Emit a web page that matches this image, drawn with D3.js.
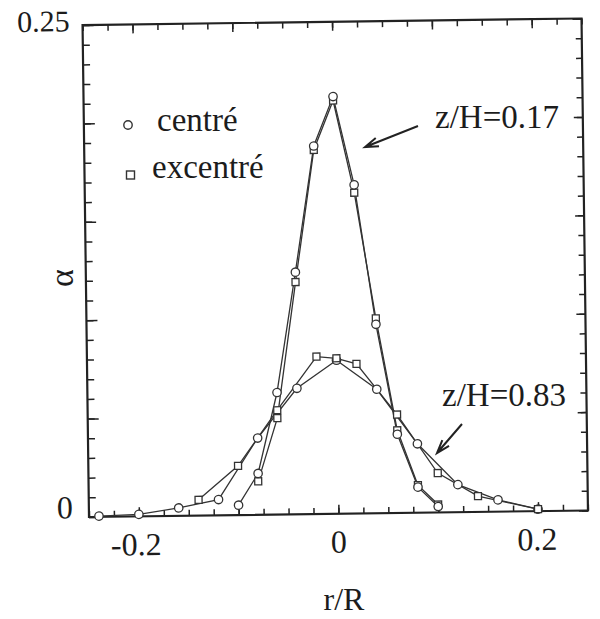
<!DOCTYPE html>
<html>
<head>
<meta charset="utf-8">
<script src="https://cdn.jsdelivr.net/npm/d3@7"></script>
<style>
  html, body { margin: 0; padding: 0; background: #fff; }
  svg { display: block; }
  text { font-family: "Liberation Serif", "DejaVu Serif", serif; fill: #1c1c1c; }
</style>
</head>
<body>
<svg id="chart" width="600" height="619"></svg>
<script>
// ---- data ----
const xDomain = [-0.25, 0.25];
const yDomain = [0, 0.25];

// z/H = 0.17
const rNarrowCentre = [-0.1, -0.08, -0.06, -0.04, -0.02, 0, 0.02, 0.04, 0.06, 0.08, 0.1];
const aNarrowCentre = [0.005, 0.021, 0.062, 0.123, 0.187, 0.212, 0.167, 0.096, 0.040, 0.013, 0.003];
const rNarrowExc = [-0.08, -0.06, -0.04, -0.02, 0, 0.02, 0.04, 0.06, 0.08, 0.1];
const aNarrowExc = [0.017, 0.049, 0.118, 0.185, 0.210, 0.163, 0.099, 0.042, 0.014, 0.004];

// z/H = 0.83
const rWideCentre = [-0.24, -0.2, -0.16, -0.12, -0.08, -0.04, 0, 0.04, 0.08, 0.12, 0.16, 0.2];
const aWideCentre = [0.0004, 0.001, 0.004, 0.008, 0.039, 0.064, 0.078, 0.063, 0.035, 0.014, 0.006, 0.001];
const rWideExc = [-0.14, -0.1, -0.06, -0.02, 0, 0.02, 0.06, 0.1, 0.14, 0.2];
const aWideExc = [0.008, 0.025, 0.053, 0.080, 0.079, 0.076, 0.050, 0.020, 0.008, 0.001];

const xTickLabels = [-0.2, 0, 0.2];
const yTickLabels = [0, 0.25];
const legendLabels = ["centré", "excentré"];
const annotLabels = ["z/H=0.17", "z/H=0.83"];
const xTitle = "r/R";
const yTitle = "α";

// ---- layout ----
const W = 499, H = 492;
const ink = "#222";
const svg = d3.select("#chart");

// the scanned figure is very slightly rotated
const g = svg.append("g")
  .attr("transform", "translate(89,517) rotate(-0.75) translate(0,-492)");

const x = d3.scaleLinear().domain(xDomain).range([0, W]);
const y = d3.scaleLinear().domain(yDomain).range([H, 0]);

const xMinor = d3.range(-0.25, 0.2501, 0.025).map(v => +v.toFixed(3));
const xMajor = d3.range(-0.2, 0.2001, 0.1).map(v => +v.toFixed(3));
const yMinor = d3.range(0, 0.2501, 0.01).map(v => +v.toFixed(3));
const yMajor = d3.range(0, 0.2501, 0.05).map(v => +v.toFixed(3));

function addAxis(gen, values, size, transform) {
  const a = g.append("g").attr("transform", transform)
    .call(gen.tickValues(values).tickSize(size).tickSizeOuter(0).tickFormat(""));
  a.select(".domain").remove();
  a.selectAll(".tick line").attr("stroke", ink).attr("stroke-width", 1.5);
}
addAxis(d3.axisBottom(x), xMinor, -6, `translate(0,${H})`);
addAxis(d3.axisBottom(x), xMajor, -9, `translate(0,${H})`);
addAxis(d3.axisTop(x), xMinor, -6, "translate(0,0)");
addAxis(d3.axisTop(x), xMajor, -9, "translate(0,0)");
addAxis(d3.axisLeft(y), yMinor, -7, "translate(0,0)");
addAxis(d3.axisLeft(y), yMajor, -11, "translate(0,0)");
addAxis(d3.axisRight(y), yMinor, -6, `translate(${W},0)`);
addAxis(d3.axisRight(y), yMajor, -9, `translate(${W},0)`);

g.append("rect").attr("x", 0).attr("y", 0).attr("width", W).attr("height", H)
  .attr("fill", "none").attr("stroke", ink).attr("stroke-width", 2.2);

// tick labels
g.selectAll(".xlab").data(xTickLabels).enter().append("text")
  .attr("class", "xlab")
  .attr("x", d => x(d) + (d < 0 ? -3 : (d > 0 ? -1 : 0)))
  .attr("y", H + 39)
  .attr("text-anchor", "middle")
  .attr("font-size", 32)
  .text(d => d === 0 ? "0" : String(d));

g.selectAll(".ylab").data(yTickLabels).enter().append("text")
  .attr("class", "ylab")
  .attr("x", d => d === 0 ? -16 : -13)
  .attr("y", d => y(d) + (d === 0 ? 1 : 6))
  .attr("text-anchor", "end")
  .attr("font-size", d => d === 0 ? 32 : 30)
  .text(d => d === 0 ? "0" : String(d));

// series
const series = [
  { r: rWideCentre, a: aWideCentre, m: "circle" },
  { r: rWideExc, a: aWideExc, m: "square" },
  { r: rNarrowExc, a: aNarrowExc, m: "square" },
  { r: rNarrowCentre, a: aNarrowCentre, m: "circle" }
];
const line = d3.line().x(d => x(d[0])).y(d => y(d[1]));

series.forEach(s => {
  const pts = s.r.map((v, i) => [v, s.a[i]]);
  g.append("path").datum(pts).attr("d", line)
    .attr("fill", "none").attr("stroke", "#333").attr("stroke-width", 1.3);
});
series.forEach(s => {
  const pts = s.r.map((v, i) => [v, s.a[i]]);
  if (s.m === "circle") {
    g.selectAll(null).data(pts).enter().append("circle")
      .attr("cx", d => x(d[0])).attr("cy", d => y(d[1])).attr("r", 4.2)
      .attr("fill", "#fff").attr("stroke", "#333").attr("stroke-width", 1.3);
  } else {
    g.selectAll(null).data(pts).enter().append("rect")
      .attr("x", d => x(d[0]) - 3.5).attr("y", d => y(d[1]) - 3.5)
      .attr("width", 7).attr("height", 7)
      .attr("fill", "#fff").attr("stroke", "#333").attr("stroke-width", 1.3);
  }
});

// legend
svg.append("circle").attr("cx", 128).attr("cy", 125).attr("r", 4.2)
  .attr("fill", "#fff").attr("stroke", "#333").attr("stroke-width", 1.4);
svg.append("text").attr("x", 157).attr("y", 131).attr("font-size", 33).text(legendLabels[0]);
svg.append("rect").attr("x", 126.5).attr("y", 171).attr("width", 8).attr("height", 8)
  .attr("fill", "#fff").attr("stroke", "#333").attr("stroke-width", 1.4);
svg.append("text").attr("x", 152).attr("y", 178).attr("font-size", 33).text(legendLabels[1]);

// annotations
svg.append("text").attr("x", 435).attr("y", 128).attr("font-size", 33).text(annotLabels[0]);
svg.append("text").attr("x", 442).attr("y", 406).attr("font-size", 33).text(annotLabels[1]);

function arrow(x1, y1, x2, y2) {
  const ang = Math.atan2(y1 - y2, x1 - x2);
  const len = 14, spread = 0.32;
  const p = d3.path();
  p.moveTo(x1, y1); p.lineTo(x2, y2);
  p.moveTo(x2 + len * Math.cos(ang + spread), y2 + len * Math.sin(ang + spread));
  p.lineTo(x2, y2);
  p.lineTo(x2 + len * Math.cos(ang - spread), y2 + len * Math.sin(ang - spread));
  svg.append("path").attr("d", p.toString()).attr("fill", "none")
    .attr("stroke", ink).attr("stroke-width", 2);
}
arrow(418, 126, 365, 147);
arrow(462, 424, 437, 453);

// axis titles
svg.append("text").attr("x", 344).attr("y", 610).attr("text-anchor", "middle")
  .attr("font-size", 32).text(xTitle);
svg.append("text").attr("transform", "translate(73,278) rotate(-90)")
  .attr("text-anchor", "middle").attr("font-size", 34).text(yTitle);
</script>
</body>
</html>
